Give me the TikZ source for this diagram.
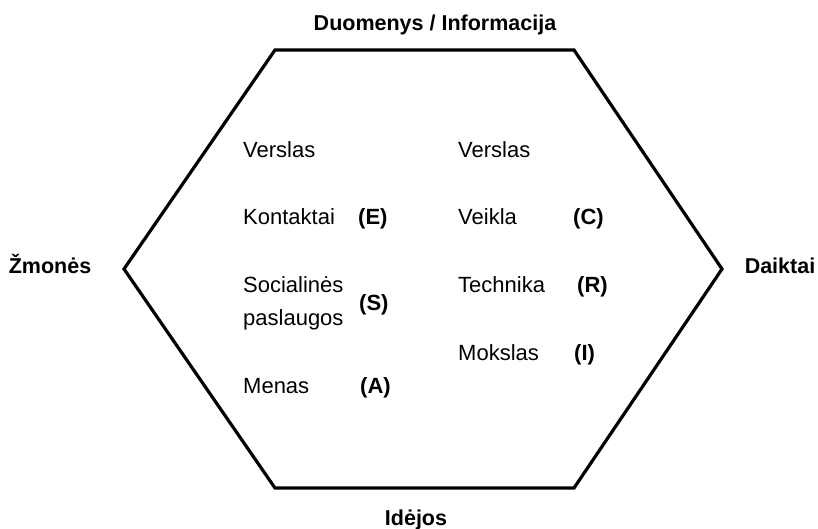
\documentclass[tikz,border=0pt]{standalone}
\usepackage{fontspec}
\setmainfont{Liberation Sans}
\begin{document}
\begin{tikzpicture}[x=1pt,y=-1pt,
    txt/.style={font=\fontsize{22}{24}\selectfont,anchor=base west,inner sep=0pt},
    kod/.style={font=\fontsize{22}{24}\selectfont\bfseries,anchor=base west,inner sep=0pt},
    pus/.style={font=\fontsize{21.5}{24}\selectfont\bfseries,anchor=base,inner sep=0pt}]
      \useasboundingbox (0,0) rectangle (818,529);
      \draw[line width=3.2pt] (275,50) -- (574,50) -- (722,269) -- (574,488) -- (275,488) -- (124,269) -- cycle;
      % sides
      \node[pus] (duom) at (435,31) {Duomenys / Informacija};
      \node[pus] (zmon) at (50,273) {Žmonės};
      \node[pus] (daik) at (780,273) {Daiktai};
      \node[pus] (idej) at (416,525) {Idėjos};
      % left column
      \node[txt] (verslasL) at (243,158) {Verslas};
      \node[txt] (kont) at (243,225) {Kontaktai};
      \node[kod] (E) at (358,225) {(E)};
      \node[txt] (soc) at (243,292) {Socialinės};
      \node[txt] (pasl) at (243,325) {paslaugos};
      \node[kod] (S) at (359,310) {(S)};
      \node[txt] (men) at (243,393) {Menas};
      \node[kod] (A) at (360,393) {(A)};
      % right column
      \node[txt] (verslasR) at (458,158) {Verslas};
      \node[txt] (veik) at (458,225) {Veikla};
      \node[kod] (C) at (573,225) {(C)};
      \node[txt] (tech) at (458,292) {Technika};
      \node[kod] (R) at (577,292) {(R)};
      \node[txt] (moks) at (458,360) {Mokslas};
      \node[kod] (I) at (574,360) {(I)};
    \end{tikzpicture}
\end{document}
